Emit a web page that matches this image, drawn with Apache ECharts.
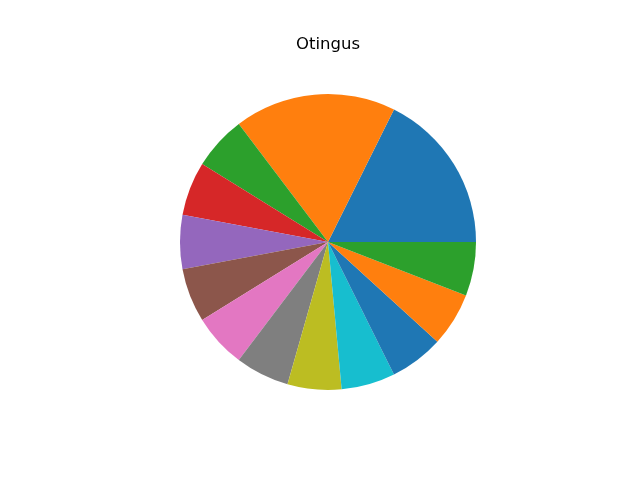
<!DOCTYPE html>
<html lang="en" style="height: 100%">
<head>
    <meta charset="UTF-8">
    <title>Otingus</title>
</head>
<body style="height: 100%; margin: 0">
<div id="container" style="width: 640px; height: 480px"></div>
<script type="text/javascript" src="https://cdn.jsdelivr.net/npm/echarts@6/dist/echarts.min.js"></script>
<script type="text/javascript">
    // slice data (no labels shown in the reference)
    var categories = ['A', 'B', 'C', 'D', 'E', 'F', 'G', 'H', 'I', 'J', 'K', 'L', 'M'];
    var values = [3, 3, 1, 1, 1, 1, 1, 1, 1, 1, 1, 1, 1];
    var colors = ['#1f77b4', '#ff7f0e', '#2ca02c', '#d62728', '#9467bd', '#8c564b',
                  '#e377c2', '#7f7f7f', '#bcbd22', '#17becf'];

    var dom = document.getElementById("container");
    var myChart = echarts.init(dom);

    var pieData = [];
    for (var i = 0; i < categories.length; i++) {
        pieData.push({
            name: categories[i],
            value: values[i],
            itemStyle: {color: colors[i % colors.length]}
        });
    }

    var option = {
        animation: false,
        backgroundColor: '#ffffff',
        title: {
            text: 'Otingus',
            left: 291,
            top: 31,
            textStyle: {
                fontFamily: 'DejaVu Sans',
                fontSize: 16.5,
                fontWeight: 'normal',
                color: '#000000'
            }
        },
        series: [{
            type: 'pie',
            center: [328, 242],
            radius: 148,
            startAngle: 0,
            clockwise: false,
            label: {show: false},
            labelLine: {show: false},
            emphasis: {disabled: true},
            itemStyle: {borderWidth: 0},
            data: pieData
        }]
    };

    myChart.setOption(option);
</script>
</body>
</html>
